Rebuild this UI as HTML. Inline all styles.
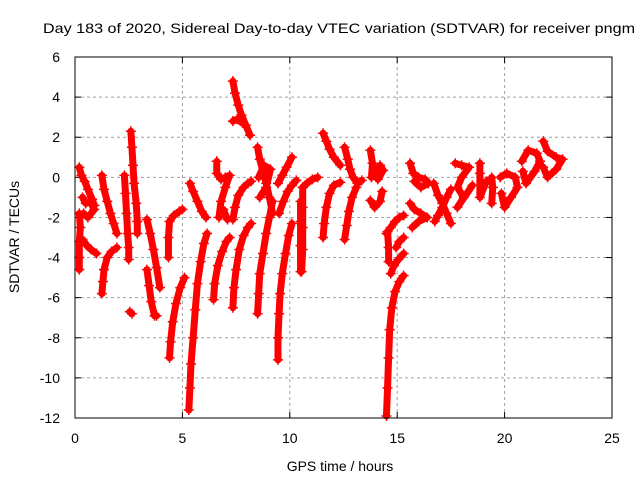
<!DOCTYPE html>
<html><head><meta charset="utf-8"><style>
body{margin:0;background:#fff}
svg{display:block;font-family:"Liberation Sans",sans-serif}
</style></head><body>
<svg id="chart" width="640" height="480" viewBox="0 0 640 480">
<rect width="640" height="480" fill="#fff"/>
<text x="339" y="33" text-anchor="middle" font-size="14" textLength="592" lengthAdjust="spacingAndGlyphs">Day 183 of 2020, Sidereal Day-to-day VTEC variation (SDTVAR) for receiver pngm</text>
<g id="grid"></g>
<g id="axes"></g>
<g id="marks"></g>
<rect x="75" y="57" width="537" height="361" fill="none" stroke="#000" stroke-width="1"/>
<text x="340" y="471" text-anchor="middle" font-size="14">GPS time / hours</text>
<text transform="translate(19,237) rotate(-90)" text-anchor="middle" font-size="14">SDTVAR / TECUs</text>
</svg>
<script>
const xTicks = [0,5,10,15,20,25];
const yTicks = [6,4,2,0,-2,-4,-6,-8,-10,-12];
const tracks = [
[[0.2,0.5],[0.3,0.1],[0.45,-0.2],[0.6,-0.6],[0.8,-1.1],[0.9,-1.4]],
[[0.35,-1.0],[0.5,-1.3],[0.7,-1.2],[0.9,-1.6],[0.6,-2.0],[0.4,-1.8]],
[[0.2,-1.8],[0.25,-2.5],[0.2,-3.2],[0.2,-4.0],[0.2,-4.6]],
[[0.35,-3.1],[0.55,-3.4],[0.75,-3.6],[1.0,-3.8]],
[[1.25,0.1],[1.35,-0.6],[1.5,-1.2],[1.65,-1.8],[1.8,-2.3],[1.95,-2.8]],
[[1.95,-3.5],[1.7,-3.7],[1.5,-4.0],[1.35,-4.6],[1.3,-5.2],[1.25,-5.8]],
[[2.3,0.1],[2.35,-0.8],[2.4,-1.8],[2.45,-2.8],[2.5,-3.5],[2.5,-4.1]],
[[2.6,2.3],[2.65,1.5],[2.7,0.6],[2.75,-0.3],[2.85,-1.3],[2.9,-2.2],[2.9,-2.8]],
[[2.55,-6.7],[2.65,-6.8]],
[[3.35,-2.1],[3.5,-2.8],[3.65,-3.6],[3.8,-4.5],[3.95,-5.5]],
[[3.35,-4.6],[3.45,-5.4],[3.55,-6.2],[3.7,-6.9],[3.8,-6.9]],
[[4.35,-4.0],[4.35,-3.0],[4.4,-2.2],[4.6,-1.9],[4.85,-1.7],[5.0,-1.6]],
[[4.4,-9.0],[4.45,-8.2],[4.55,-7.2],[4.7,-6.3],[4.9,-5.5],[5.1,-5.0]],
[[5.35,-0.3],[5.5,-0.7],[5.7,-1.2],[5.9,-1.7],[6.1,-2.0]],
[[5.3,-11.6],[5.35,-10.5],[5.4,-9.3],[5.5,-8.0],[5.6,-6.6],[5.7,-5.3],[5.85,-4.2],[6.0,-3.3],[6.15,-2.8]],
[[6.6,0.8],[6.6,0.2],[6.8,-0.1],[7.0,0.0],[7.2,0.1],[7.0,-0.5],[6.8,-1.2],[6.7,-2.0],[6.9,-1.6],[7.1,-2.1]],
[[6.45,-6.1],[6.5,-5.3],[6.65,-4.4],[6.85,-3.7],[7.05,-3.2],[7.2,-3.0]],
[[7.35,4.8],[7.45,4.2],[7.6,3.6],[7.75,3.1],[7.95,2.6],[8.15,2.1]],
[[7.35,2.8],[7.55,2.9],[7.8,2.7]],
[[7.35,-6.5],[7.4,-5.5],[7.5,-4.6],[7.65,-3.6],[7.85,-2.9],[8.05,-2.5],[8.2,-2.3]],
[[7.35,-2.1],[7.45,-1.5],[7.6,-0.9],[7.85,-0.5],[8.05,-0.3],[8.2,-0.2]],
[[8.5,1.5],[8.6,0.9],[8.75,0.3],[8.9,-0.3],[9.05,-1.0],[9.2,-1.8]],
[[8.55,0.0],[8.8,0.6],[9.1,0.4],[8.9,-0.5],[8.6,-1.0]],
[[8.5,-6.8],[8.55,-5.8],[8.6,-4.8],[8.75,-3.8],[8.9,-2.8],[9.05,-2.0],[9.2,-1.2]],
[[9.45,-0.3],[9.65,0.1],[9.85,0.5],[10.1,1.0]],
[[9.45,-9.1],[9.45,-8.0],[9.5,-6.8],[9.55,-5.8],[9.65,-4.8],[9.8,-3.8],[9.95,-2.9],[10.1,-2.3]],
[[9.5,-1.8],[9.7,-1.2],[9.9,-0.7],[10.1,-0.4],[10.3,-0.15]],
[[10.5,-1.2],[10.5,-2.2],[10.5,-3.4],[10.5,-4.7]],
[[10.6,-0.5],[10.8,-0.3],[11.05,-0.1],[11.3,0.0]],
[[10.6,-0.5],[10.6,-1.5],[10.6,-2.5],[10.6,-3.6],[10.55,-4.7]],
[[11.55,2.2],[11.7,1.8],[11.85,1.4],[12.05,1.0],[12.35,0.6]],
[[11.55,-3.0],[11.6,-2.3],[11.7,-1.5],[11.85,-0.8],[12.05,-0.4],[12.35,-0.25]],
[[12.55,1.5],[12.7,0.9],[12.8,0.4],[12.95,0.0],[13.15,-0.3],[13.35,-0.15]],
[[12.55,-3.1],[12.65,-2.4],[12.75,-1.7],[12.9,-1.0],[13.1,-0.5]],
[[13.75,1.35],[13.85,0.7],[13.8,0.0],[14.0,0.3],[14.2,0.6],[14.35,0.35],[14.1,-0.1]],
[[13.75,-1.15],[13.95,-1.5],[14.2,-1.2],[14.3,-0.7]],
[[14.5,-11.9],[14.55,-10.5],[14.6,-9.0],[14.65,-7.6],[14.75,-6.5],[14.9,-5.7],[15.1,-5.2],[15.3,-4.9]],
[[14.7,-4.8],[14.85,-4.4],[15.05,-4.1],[15.3,-3.8]],
[[14.95,-3.5],[15.1,-3.2],[15.3,-3.0]],
[[14.5,-2.8],[14.7,-2.5],[14.9,-2.2],[15.1,-2.0],[15.3,-1.9]],
[[14.55,-2.7],[14.6,-3.5],[14.6,-4.2]],
[[15.6,0.7],[15.75,0.2],[16.0,0.0],[16.3,-0.1],[16.45,-0.3],[16.1,-0.5],[15.8,-0.2]],
[[15.6,-1.3],[15.8,-1.6],[16.1,-1.8],[16.4,-2.0],[16.0,-2.2],[15.7,-2.5]],
[[16.7,-0.3],[16.9,-0.9],[17.1,-1.3],[17.3,-1.8],[17.5,-2.3]],
[[17.5,-0.6],[17.3,-1.0],[17.1,-1.5],[16.9,-1.9],[16.75,-2.2]],
[[17.7,0.7],[18.0,0.6],[18.35,0.5],[18.0,0.0],[17.8,-0.5],[18.1,-1.0],[17.8,-1.5],[18.5,-0.4]],
[[18.85,0.7],[18.85,0.2],[18.85,-0.4],[18.85,-1.0],[19.15,-0.2]],
[[19.4,0.0],[19.45,-0.5],[19.4,-1.3]],
[[19.8,0.0],[20.1,0.2],[20.5,0.0],[20.6,-0.5],[20.3,-1.0],[20.0,-1.5],[19.85,-0.8]],
[[20.8,0.8],[21.1,1.35],[21.5,1.2],[21.65,0.8],[21.4,0.3],[21.0,-0.3],[20.85,0.3]],
[[21.8,1.8],[22.0,1.3],[22.4,1.0],[22.7,0.9],[22.4,0.4],[22.0,0.0],[21.8,0.5]]
];
const NS="http://www.w3.org/2000/svg";
const X0=75,X1=612,Y0=418,Y1=57;
function xs(v){return X0+(v-0)/(25-0)*(X1-X0);}
function ys(v){return Y0-(v-(-12))/(6-(-12))*(Y0-Y1);}
function mk(tag,attrs,parent){const e=document.createElementNS(NS,tag);for(const k in attrs)e.setAttribute(k,attrs[k]);parent.appendChild(e);return e;}
const grid=document.getElementById('grid'),axes=document.getElementById('axes'),marks=document.getElementById('marks');
xTicks.forEach(t=>{const x=xs(t);
 if(t>0&&t<25){const g=mk('line',{x1:x,y1:Y0,x2:x,y2:Y1,stroke:'#a0a0a0','stroke-dasharray':'3,3'},grid);
 
 }
 mk('line',{x1:x,y1:Y0,x2:x,y2:Y0-6,stroke:'#000'},axes);
 mk('line',{x1:x,y1:Y1,x2:x,y2:Y1+6,stroke:'#000'},axes);
 const l=mk('text',{x:x,y:443,'text-anchor':'middle','font-size':'14'},axes);l.textContent=t;
 
 
});
yTicks.forEach(t=>{const y=ys(t);
 if(t<6&&t>-12){const g=mk('line',{x1:X0,y1:y,x2:X1,y2:y,stroke:'#a0a0a0','stroke-dasharray':'3,3'},grid);
 
 }
 mk('line',{x1:X0,y1:y,x2:X0+6,y2:y,stroke:'#000'},axes);
 mk('line',{x1:X1,y1:y,x2:X1-6,y2:y,stroke:'#000'},axes);
 const l=mk('text',{x:60,y:y+5,'text-anchor':'end','font-size':'14'},axes);l.textContent=t;
 
 
});
tracks.forEach(tr=>{
 const pts=tr.map(p=>xs(p[0])+','+ys(p[1])).join(' ');
 const pl=mk('polyline',{points:pts,fill:'none',stroke:'#f00','stroke-width':7,'stroke-linejoin':'round','stroke-linecap':'round'},marks);
 
 
 tr.forEach(p=>{const x=xs(p[0]),y=ys(p[1]);
  const m=mk('path',{d:`M${x-5},${y}H${x+5}M${x},${y-5}V${y+5}`,stroke:'#f00','stroke-width':1.5},marks);
  
  
 });
});
</script>
</body></html>
